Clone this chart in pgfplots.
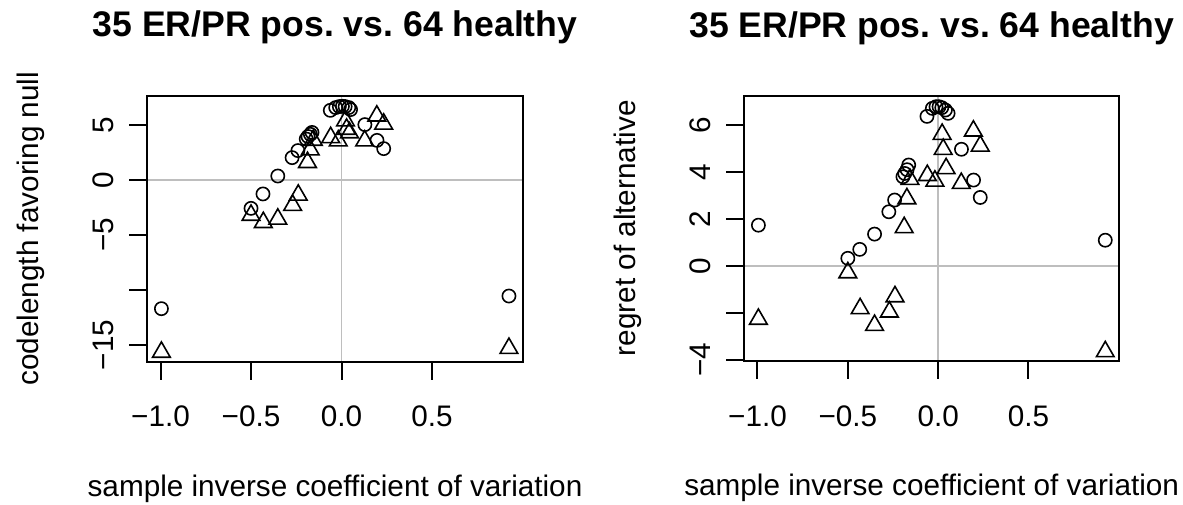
\documentclass[border=0pt]{standalone}
\usepackage{fontspec}
\setmainfont{Liberation Sans}
\usepackage{pgfplots}
\pgfplotsset{compat=1.18}
\frenchspacing
\definecolor{rgray}{HTML}{BEBEBE}
\newcommand{\rfont}{\fontsize{14.85}{17}\selectfont}
\newcommand{\rl}[1]{\rotatebox{90}{#1}}
\pgfplotsset{
  rstyle/.style={
    scale only axis,
    anchor=south west,
    axis on top,
    axis line style={line width=1pt},
    tick style={line width=1pt, black},
    tick align=outside,
    major tick length=9pt,
    tick pos=left,
    xmin=-1.073, xmax=1.001,
    xtick={-1,-0.5,0,0.5},
    xticklabels={−1.0,−0.5,0.0,0.5},
    ticklabel style={font=\rfont},
    xticklabel style={anchor=center, yshift=-18.4pt},
    yticklabel style={anchor=center, xshift=-13pt},
    every axis x label/.style={at={(axis description cs:0.5,-0.4774)}, anchor=center, font=\rfont},
    every axis y label/.style={at={(axis description cs:-0.31,0.5)}, rotate=90, anchor=center, font=\rfont},
    every axis title shift=0pt,
    title style={at={(axis description cs:0.5,1.2207)}, anchor=base, font=\bfseries\fontsize{17.8}{20}\selectfont},
    xlabel={sample inverse coefficient of variation},
    title={35 ER/PR pos. vs. 64 healthy},
  },
  circ/.style={only marks, mark=o, mark size=3.3pt, line width=0.8pt, black},
  tri/.style={only marks, mark=triangle, mark size=5.1pt, line width=0.8pt, black},
  refl/.style={rgray, line width=0.9pt, forget plot},
}
\begin{document}
\begin{tikzpicture}
\useasboundingbox (0,0) rectangle (591.5pt,252pt);
\begin{axis}[rstyle,
  at={(73.65pt,71.15pt)}, width=187.7pt, height=133pt,
  ymin=-16.52, ymax=7.66,
  ytick={-15,-10,-5,0,5}, yticklabels={\rl{−15},,\rl{−5},\rl{0},\rl{5}},
  ylabel={codelength favoring null}]
\addplot[refl] coordinates {(-2,0) (2,0)};
\addplot[refl] coordinates {(0,-30) (0,30)};
\addplot[circ] coordinates {(-0.995,-11.7) (-0.50,-2.58) (-0.434,-1.27) (-0.352,0.36) (-0.273,2.03) (-0.241,2.67) (-0.195,3.72) (-0.185,3.95) (-0.172,4.15) (-0.163,4.32) (-0.062,6.33) (-0.032,6.58) (-0.012,6.67) (0.005,6.70) (0.020,6.67) (0.040,6.58) (0.050,6.40) (0.129,5.03) (0.196,3.60) (0.233,2.85) (0.925,-10.55)};
\addplot[tri] coordinates {(-0.995,-15.65) (-0.500,-3.2) (-0.432,-3.86) (-0.352,-3.55) (-0.270,-2.3) (-0.239,-1.37) (-0.188,1.6) (-0.173,2.75) (-0.156,3.62) (-0.060,3.86) (-0.018,3.56) (0.022,5.38) (0.028,4.62) (0.044,4.3) (0.128,3.56) (0.195,5.82) (0.233,5.09) (0.925,-15.3)};
\end{axis}
\begin{axis}[rstyle,
  at={(372.15pt,71.5pt)}, width=187.35pt, height=132.65pt,
  ymin=-4.04, ymax=7.25,
  ytick={-4,-2,0,2,4,6}, yticklabels={\rl{−4},,\rl{0},\rl{2},\rl{4},\rl{6}},
  every axis y label/.style={at={(axis description cs:-0.31,0.5)}, rotate=90, anchor=center, font=\rfont},
  ylabel={regret of alternative}]
\addplot[refl] coordinates {(-2,0) (2,0)};
\addplot[refl] coordinates {(0,-30) (0,30)};
\addplot[circ] coordinates {(-0.995,1.74) (-0.50,0.33) (-0.434,0.71) (-0.352,1.36) (-0.273,2.31) (-0.241,2.81) (-0.195,3.80) (-0.185,3.94) (-0.172,4.10) (-0.163,4.30) (-0.062,6.37) (-0.032,6.71) (-0.012,6.78) (0.005,6.78) (0.020,6.74) (0.040,6.64) (0.055,6.50) (0.129,4.97) (0.196,3.66) (0.233,2.92) (0.925,1.1)};
\addplot[tri] coordinates {(-0.995,-2.26) (-0.500,-0.28) (-0.432,-1.81) (-0.352,-2.52) (-0.270,-1.95) (-0.239,-1.3) (-0.188,1.64) (-0.173,2.87) (-0.156,3.69) (-0.060,3.86) (-0.018,3.62) (0.022,5.61) (0.028,4.97) (0.044,4.15) (0.128,3.52) (0.195,5.75) (0.233,5.11) (0.925,-3.64)};
\end{axis}
\end{tikzpicture}
\end{document}
